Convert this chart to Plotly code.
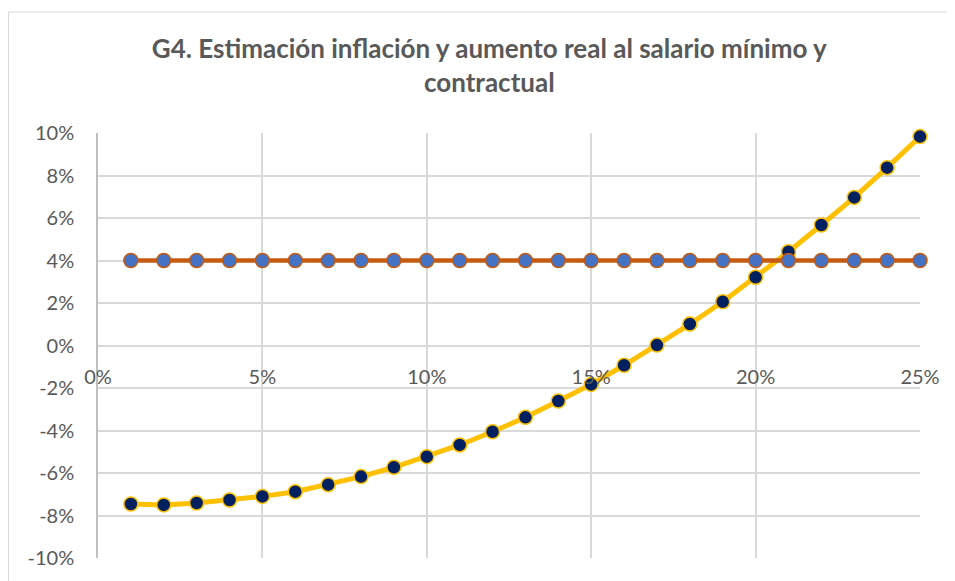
import plotly.graph_objects as go

# Data (x in %, y in %)
inflacion = list(range(1, 26))
aumento_real = [-7.46, -7.50, -7.41, -7.27, -7.10, -6.88, -6.55, -6.17, -5.73, -5.23,
                -4.68, -4.06, -3.38, -2.61, -1.83, -0.93, 0.02, 1.01, 2.06, 3.21,
                4.41, 5.67, 6.97, 8.37, 9.83]
referencia = [4.0] * 25

x_ticks = [0, 5, 10, 15, 20, 25]
y_ticks = [-10, -8, -6, -4, -2, 0, 2, 4, 6, 8, 10]

xs = [v / 100 for v in inflacion]

fig = go.Figure()
fig.add_trace(go.Scatter(
    x=xs, y=[v / 100 for v in aumento_real], mode="lines+markers",
    line=dict(color="#FFC000", width=5), cliponaxis=False,
    marker=dict(color="#002060", size=14, line=dict(color="#FFC000", width=1.5)),
    showlegend=False))
fig.add_trace(go.Scatter(
    x=xs, y=[v / 100 for v in referencia], mode="lines+markers",
    line=dict(color="#C55A11", width=4.5), cliponaxis=False,
    marker=dict(color="#4472C4", size=14, line=dict(color="#C55A11", width=1.5)),
    showlegend=False))

tickfont = dict(family="Lato", size=20, color="#595959")
fig.update_layout(
    width=955, height=581,
    margin=dict(l=90, r=43, t=125, b=31),
    paper_bgcolor="white", plot_bgcolor="white",
    title=dict(
        text="<b>G4. Estimación inflación y aumento real al salario mínimo y<br>contractual</b>",
        x=0.504, xanchor="center", y=0.914, yanchor="middle",
        font=dict(family="Lato", size=26, color="#595959")),
    xaxis=dict(range=[0, 0.25], tickvals=[v / 100 for v in x_ticks],
               ticktext=[f"{v}%" for v in x_ticks],
               showgrid=True, gridcolor="#D9D9D9", gridwidth=1.5,
               zeroline=False, showline=False,
               anchor="free", position=0.5,
               ticks="outside", ticklen=0, ticklabelstandoff=13,
               tickfont=tickfont),
    yaxis=dict(range=[-0.10, 0.10], tickvals=[v / 100 for v in y_ticks],
               ticktext=[f"{v}%" for v in y_ticks],
               showgrid=True, gridcolor="#D9D9D9", gridwidth=1.5,
               zeroline=True, zerolinecolor="#D9D9D9", zerolinewidth=1.5,
               showline=True, linecolor="#BFBFBF", linewidth=1.5,
               ticks="outside", ticklen=0, ticklabelstandoff=18,
               tickfont=tickfont),
    shapes=[dict(type="rect", xref="paper", yref="paper",
                 x0=-0.1089, x1=1.2, y0=-0.2, y1=1.2847,
                 line=dict(color="#D9D9D9", width=1), layer="below")],
)

fig.write_html("out.html")
